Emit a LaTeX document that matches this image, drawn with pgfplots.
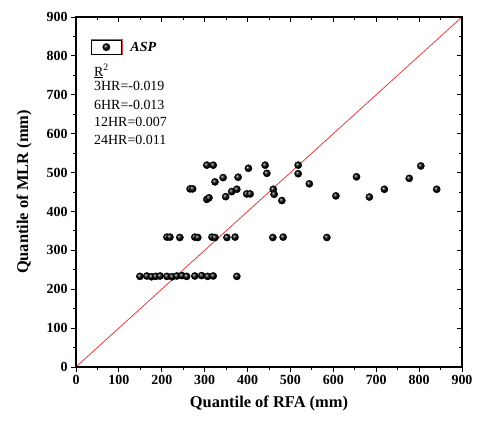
\documentclass[border=0pt]{standalone}
\usepackage{fontspec}
\setmainfont{Liberation Serif}
\usepackage{pgfplots}
\pgfplotsset{compat=1.18}

% quantile pairs (RFA, MLR)
\pgfplotstableread{
x y
149 233
165 234
176 232
186 233
196 234
212 233
224 232
235 234
247 235
258 233
277 234
293 235
307 233
320 234
375 233
212 334
219 334
242 333
277 334
284 333
317 334
324 333
352 333
371 334
459 333
483 334
585 333
266 458
272 458
305 431
310 435
305 519
320 519
324 476
343 487
349 438
363 451
375 457
378 488
398 445
406 445
402 511
441 519
445 498
460 457
462 444
480 428
518 519
518 497
544 471
606 440
654 489
684 437
719 457
777 485
804 517
841 457
}\asp

\definecolor{diag}{RGB}{230,60,60}

\begin{document}
\begin{tikzpicture}
\begin{axis}[
    name=ax,
    scale only axis,
    width=386bp, height=350bp,
    xmin=0, xmax=900, ymin=0, ymax=900,
    xtick={0,100,...,900}, ytick={0,100,...,900},
    minor tick num=1,
    tick align=outside,
    xtick pos=left, ytick pos=left,
    major tick length=5bp, minor tick length=3bp,
    axis line style={line width=1.1bp},
    tick style={line width=0.8bp, black},
    /pgf/number format/assume math mode=true,
    ticklabel style={font=\fontsize{14}{16}\selectfont\bfseries},
    xlabel={Quantile of RFA (mm)},
    ylabel={Quantile of MLR (mm)},
    label style={font=\fontsize{16.5}{19}\selectfont\bfseries},
    xlabel style={yshift=-4bp},
    ylabel style={yshift=8bp},
    legend image code/.code={
        \path (0bp,-7bp) rectangle (30bp,7bp);
        \draw[only marks] plot coordinates {(15bp,0bp)};
    },
    legend style={at={(rel axis cs:0.080,0.914)}, anchor=center,
        draw=diag, line width=0.6bp, inner sep=0pt,
        nodes={inner sep=0pt}},
    clip=false,
]
\addplot[diag, line width=0.8bp, forget plot] coordinates {(0,0) (900,900)};
\addplot[only marks, mark=ball, mark size=3.6bp, mark options={ball color=black}]
    table[x=x, y=y] {\asp};
\addlegendentry{}
\node[anchor=base west, font=\fontsize{14}{16}\selectfont\bfseries\itshape]
    at (rel axis cs:0.132,0.900) {ASP};
\node[anchor=base west, font=\fontsize{14}{16}\selectfont]
    at (rel axis cs:0.038,0.831) {\underline{R}\textsuperscript{2}};
\node[anchor=base west, font=\fontsize{14}{16}\selectfont]
    at (rel axis cs:0.038,0.789) {3HR=-0.019};
\node[anchor=base west, font=\fontsize{14}{16}\selectfont]
    at (rel axis cs:0.038,0.737) {6HR=-0.013};
\node[anchor=base west, font=\fontsize{14}{16}\selectfont]
    at (rel axis cs:0.038,0.686) {12HR=0.007};
\node[anchor=base west, font=\fontsize{14}{16}\selectfont]
    at (rel axis cs:0.038,0.637) {24HR=0.011};
\end{axis}
\begin{axis}[
    scale only axis,
    width=386bp, height=350bp,
    xmin=0, xmax=900, ymin=0, ymax=900,
    xtick={0,100,...,900}, ytick={0,100,...,900},
    minor tick num=1,
    tick align=inside,
    xtick pos=right, ytick pos=right,
    major tick length=5bp, minor tick length=3bp,
    axis line style={line width=1.1bp},
    tick style={line width=0.8bp, black},
    xticklabels={}, yticklabels={},
]
\end{axis}
\path ([shift={(-76bp,-58bp)}]ax.south west) rectangle ([shift={(16bp,17bp)}]ax.north east);
\end{tikzpicture}
\end{document}
